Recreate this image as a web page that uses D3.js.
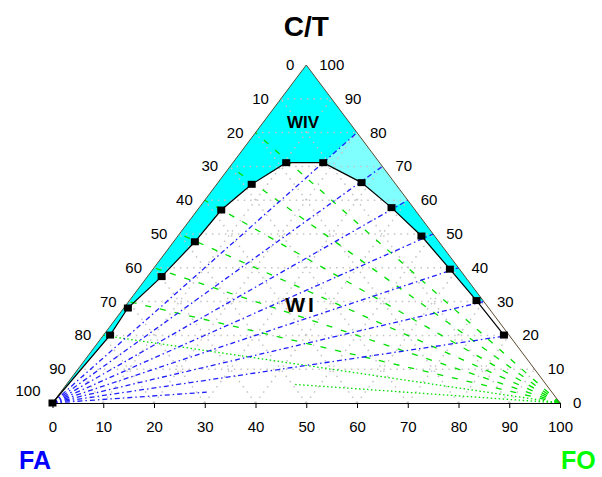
<!DOCTYPE html>
<html>
<head>
<meta charset="utf-8">
<script src="https://cdn.jsdelivr.net/npm/d3@7"></script>
<style>
  body { margin: 0; background: #fff; }
  text { font-family: Arial, "Liberation Sans", sans-serif; }
</style>
</head>
<body>
<div id="chart"></div>
<script>
var svgWidth = 602;
var svgHeight = 477;

// tick values, same on all three sides (%)
var tickValues = [0, 10, 20, 30, 40, 50, 60, 70, 80, 90, 100];

// binodal curve points [FA, FO, C/T] (%)
var binodal = [
  [100, 0, 0],
  [78.6, 1.3, 20.1],
  [71.1, 0.8, 28.1],
  [59.8, 2.8, 37.4],
  [48.1, 4.2, 47.7],
  [38.2, 4.7, 57.1],
  [28.4, 6.9, 64.7],
  [18.4, 10.5, 71.1],
  [11.1, 17.8, 71.1],
  [6.5, 28.3, 65.2],
  [4.3, 37.9, 57.8],
  [2.6, 48.0, 49.4],
  [1.9, 58.5, 39.6],
  [1.3, 68.4, 30.3],
  [1.0, 78.9, 20.1]
];

// tie lines from FA corner to the C/T-FO side (C/T % at the end)
var blueTieCT = [80, 70, 60, 50, 40, 30, 20];
// tie lines from FO corner to the FA-C/T side (FA % at the end)
var greenTieFA = [80, 70, 60, 50, 40, 30, 20];
// shorter low tie lines: [end value %, drawn share of the length]
var blueLowTie = [[10, 0.32]];
var greenLowTie = [[90, 0.55]];

var svg = d3.select("#chart")
  .append("svg")
  .attr("width", svgWidth)
  .attr("height", svgHeight);

// x: position along the base (FO + C/T/2), y: C/T
var xScale = d3.scaleLinear().domain([0, 100]).range([52.5, 560]);
var yScale = d3.scaleLinear().domain([0, 100]).range([403, 65]);

function pt(fa, fo, ct) {
  var s = fa + fo + ct;
  return [xScale((fo + ct / 2) / s * 100), yScale(ct / s * 100)];
}
function ptA(d) { return pt(d[0], d[1], d[2]); }
function lerp(p, q, t) { return [p[0] + (q[0] - p[0]) * t, p[1] + (q[1] - p[1]) * t]; }

var line = d3.line();

// ---- shaded regions (WIV) ----
var b = binodal.map(ptA);
var apex = pt(0, 0, 100);
var faCorner = pt(100, 0, 0);
var foCorner = pt(0, 100, 0);
function rightEdge(ct) { return pt(0, 100 - ct, ct); }
function leftEdge(fa) { return pt(fa, 0, 100 - fa); }

// bright cyan: apex -> FA corner -> binodal left branch -> tie line 80
svg.append("path")
  .attr("d", line([apex, faCorner].concat(b.slice(1, 9)).concat([rightEdge(blueTieCT[0])])) + "Z")
  .attr("fill", "#00ffff");

// light cyan between tie lines 80 and 60
svg.append("path")
  .attr("d", line([b[8], rightEdge(blueTieCT[0]), rightEdge(blueTieCT[2]), b[10], b[9]]) + "Z")
  .attr("fill", "#80ffff");

// bright cyan between tie lines 60 and 30
svg.append("path")
  .attr("d", line([b[10], rightEdge(blueTieCT[2]), rightEdge(blueTieCT[5]), b[13], b[12], b[11]]) + "Z")
  .attr("fill", "#00ffff");

// ---- gray dotted grid ----
var grid = svg.append("g")
  .attr("stroke", "#c4c4c4")
  .attr("stroke-width", 1.5)
  .attr("stroke-dasharray", "1.5,5")
  .attr("fill", "none");

tickValues.slice(1, 10).forEach(function(v) {
  grid.append("path").attr("d", line([pt(100 - v, 0, v), pt(0, 100 - v, v)]));
  grid.append("path").attr("d", line([pt(100 - v, v, 0), pt(0, v, 100 - v)]));
  grid.append("path").attr("d", line([pt(v, 100 - v, 0), pt(v, 0, 100 - v)]));
});

// ---- tie lines ----
svg.append("g").selectAll("path")
  .data(greenTieFA)
  .enter()
  .append("path")
  .attr("d", d => line([foCorner, leftEdge(d)]))
  .attr("stroke", "#00e000")
  .attr("stroke-width", 1.3)
  .attr("stroke-dasharray", d => d === 80 ? "1.5,2.5" : "6,9")
  .attr("fill", "none");

svg.append("g").selectAll("path")
  .data(greenLowTie)
  .enter()
  .append("path")
  .attr("d", d => line([foCorner, lerp(foCorner, leftEdge(d[0]), d[1])]))
  .attr("stroke", "#00e000")
  .attr("stroke-width", 1.3)
  .attr("stroke-dasharray", "1.5,2.5")
  .attr("fill", "none");

svg.append("g").selectAll("path")
  .data(blueTieCT)
  .enter()
  .append("path")
  .attr("d", d => line([faCorner, rightEdge(d)]))
  .attr("stroke", "#2020ff")
  .attr("stroke-width", 1.3)
  .attr("stroke-dasharray", "5,3,1.5,3")
  .attr("fill", "none");

svg.append("g").selectAll("path")
  .data(blueLowTie)
  .enter()
  .append("path")
  .attr("d", d => line([faCorner, lerp(faCorner, rightEdge(d[0]), d[1])]))
  .attr("stroke", "#2020ff")
  .attr("stroke-width", 1.3)
  .attr("stroke-dasharray", "5,3,1.5,3")
  .attr("fill", "none");

// ---- triangle sides ----
svg.append("path")
  .attr("d", line([faCorner, apex, foCorner]))
  .attr("stroke", "#5a4a30")
  .attr("stroke-width", 1)
  .attr("fill", "none");

// ---- binodal curve ----
svg.append("path")
  .attr("d", line(b))
  .attr("stroke", "#000")
  .attr("stroke-width", 1.2)
  .attr("fill", "none");

svg.append("g").selectAll("rect")
  .data(binodal)
  .enter()
  .append("rect")
  .attr("x", d => ptA(d)[0] - 4)
  .attr("y", d => ptA(d)[1] - 3.5)
  .attr("width", 8)
  .attr("height", 7)
  .attr("fill", "#000");

// ---- bottom axis (FO) ----
var bottomAxis = d3.axisBottom(xScale)
  .tickValues(tickValues)
  .tickSizeInner(5)
  .tickSizeOuter(0)
  .tickPadding(13);

var xAxis = svg.append("g")
  .attr("transform", `translate(0, ${yScale(0)})`)
  .call(bottomAxis);
xAxis.selectAll("text").attr("font-size", "15px").attr("font-family", "Arial, 'Liberation Sans', sans-serif").attr("fill", "#000");
xAxis.selectAll("line").attr("stroke", "#000");
xAxis.select(".domain").attr("stroke", "#000");

// ---- left side labels (FA) ----
svg.append("g").selectAll("text")
  .data(tickValues)
  .enter()
  .append("text")
  .attr("x", d => leftEdge(d)[0] - 12)
  .attr("y", d => leftEdge(d)[1] + 5 - (d === 100 ? 12 : 0))
  .attr("text-anchor", "end")
  .attr("font-size", "15px")
  .text(d => d);

// ---- right side labels (C/T) ----
svg.append("g").selectAll("text")
  .data(tickValues)
  .enter()
  .append("text")
  .attr("x", d => rightEdge(d)[0] + 13)
  .attr("y", d => rightEdge(d)[1] + 5)
  .attr("text-anchor", "start")
  .attr("font-size", "15px")
  .text(d => d);

// ---- titles ----
svg.append("text")
  .attr("x", apex[0])
  .attr("y", 36)
  .attr("text-anchor", "middle")
  .attr("font-size", "28px")
  .attr("font-weight", "bold")
  .text("C/T");

svg.append("text")
  .attr("x", 19)
  .attr("y", 469)
  .attr("font-size", "25px")
  .attr("font-weight", "bold")
  .attr("fill", "#0000ff")
  .text("FA");

svg.append("text")
  .attr("x", 561)
  .attr("y", 469)
  .attr("font-size", "25px")
  .attr("font-weight", "bold")
  .attr("fill", "#00ff00")
  .text("FO");

svg.append("text")
  .attr("x", 303)
  .attr("y", 128)
  .attr("text-anchor", "middle")
  .attr("font-size", "17px")
  .attr("font-weight", "bold")
  .text("WIV");

svg.append("text")
  .attr("x", 301)
  .attr("y", 312)
  .attr("text-anchor", "middle")
  .attr("font-size", "21px")
  .attr("font-weight", "bold")
  .attr("letter-spacing", "3px")
  .text("WI");
</script>
</body>
</html>
